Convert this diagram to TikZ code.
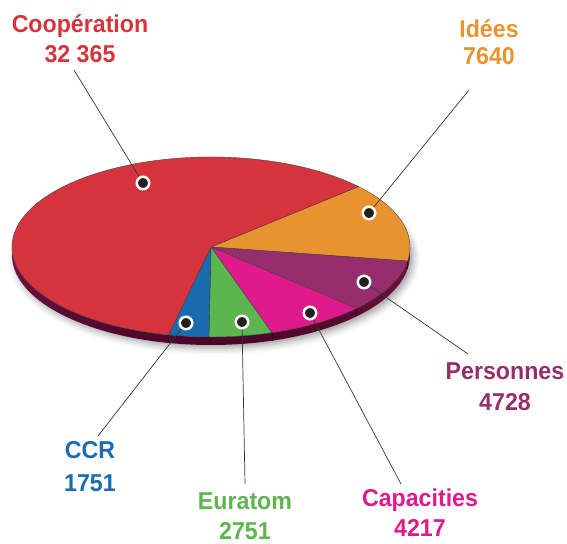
\documentclass[tikz,border=0pt]{standalone}
\usepackage{fontspec}
\newfontfamily\labfont{Liberation Sans}[FakeStretch=0.95]
\usetikzlibrary{shadows.blur}
\definecolor{cRed}{HTML}{D6343C}
\definecolor{cOrange}{HTML}{E8932F}
\definecolor{cPurple}{HTML}{962D6D}
\definecolor{cMagenta}{HTML}{E01A8C}
\definecolor{cGreen}{HTML}{5CB54F}
\definecolor{cBlue}{HTML}{1A6BAF}
\definecolor{cSideTop}{HTML}{7C1649}
\definecolor{cSideBot}{HTML}{4A0628}
\definecolor{cInk}{HTML}{231F20}
\tikzset{
  lab/.style={font=\labfont\bfseries\fontsize{24.4}{30}\selectfont, anchor=base, inner sep=0pt},
  slice/.style={draw=cInk!85, line width=0.4pt},
  leader/.style={draw=cInk!90, line width=0.7pt},
  dotmark/.style={circle, fill=cInk, draw=white, line width=2.5pt, inner sep=0pt, minimum size=12.5pt},
  sideedge/.style={draw=cSideBot!70!black, line width=0.3pt}
}
\begin{document}
\begin{tikzpicture}[x=1pt,y=1pt]
\useasboundingbox (0,0) rectangle (567,543);
\coordinate (C) at (211,296);
% shadow under the pie
\path[blur shadow={shadow xshift=3pt, shadow yshift=-3pt, shadow blur radius=7pt, shadow opacity=40}]
  (211,288) ellipse [x radius=199, y radius=90];
% side band
\shade[top color=cSideTop, bottom color=cSideBot]
  (C) ++(180:199 and 90) arc[start angle=180, end angle=360, x radius=199, y radius=90]
  -- ++(0,-8) arc[start angle=360, end angle=180, x radius=199, y radius=90] -- cycle;
\foreach \a in {-9,-43,-72.2,-90.6,-102.3}{
  \draw[sideedge] (C) ++(\a:199 and 90) -- ++(0,-8);
}
% top slices
\filldraw[slice, fill=cOrange] (C) -- ++(42.2:199 and 90) arc[start angle=42.2, end angle=-9, x radius=199, y radius=90] -- cycle;
\filldraw[slice, fill=cPurple] (C) -- ++(-9:199 and 90) arc[start angle=-9, end angle=-43, x radius=199, y radius=90] -- cycle;
\filldraw[slice, fill=cMagenta] (C) -- ++(-43:199 and 90) arc[start angle=-43, end angle=-72.2, x radius=199, y radius=90] -- cycle;
\filldraw[slice, fill=cGreen] (C) -- ++(-72.2:199 and 90) arc[start angle=-72.2, end angle=-90.6, x radius=199, y radius=90] -- cycle;
\filldraw[slice, fill=cBlue] (C) -- ++(-90.6:199 and 90) arc[start angle=-90.6, end angle=-102.3, x radius=199, y radius=90] -- cycle;
\filldraw[slice, fill=cRed] (C) -- ++(-102.3:199 and 90) arc[start angle=-102.3, end angle=-317.8, x radius=199, y radius=90] -- cycle;
% dot centres and leader ends
\coordinate (pCoop) at (143,360);
\coordinate (pIdees) at (369,330);
\coordinate (pPers) at (364,261);
\coordinate (pCapa) at (310,230);
\coordinate (pEura) at (242,221);
\coordinate (pCCR) at (186,220);
\coordinate (eCoop) at (74,473);
\coordinate (eIdees) at (469,453);
\coordinate (ePers) at (468,189);
\coordinate (eCapa) at (401,59);
\coordinate (eEura) at (245,59);
\coordinate (eCCR) at (98,107);
% leaders
\draw[leader] (pCoop) -- (eCoop);
\draw[leader] (pIdees) -- (eIdees);
\draw[leader] (pPers) -- (ePers);
\draw[leader] (pCapa) -- (eCapa);
\draw[leader] (pEura) -- (eEura);
\draw[leader] (pCCR) -- (eCCR);
% dots
\node[dotmark] (dCoop) at (pCoop) {};
\node[dotmark] (dIdees) at (pIdees) {};
\node[dotmark] (dPers) at (pPers) {};
\node[dotmark] (dCapa) at (pCapa) {};
\node[dotmark] (dEura) at (pEura) {};
\node[dotmark] (dCCR) at (pCCR) {};
% labels
\node[lab, text=cRed] (lCoop1) at (80,510) {Coopération};
\node[lab, text=cRed] (lCoop2) at (80,480) {32 365};
\node[lab, text=cOrange] (lIdees1) at (489,505) {Idées};
\node[lab, text=cOrange] (lIdees2) at (489,478) {7640};
\node[lab, text=cPurple] (lPers1) at (505,163) {Personnes};
\node[lab, text=cPurple] (lPers2) at (505,132) {4728};
\node[lab, text=cBlue] (lCCR1) at (90,84) {CCR};
\node[lab, text=cBlue] (lCCR2) at (90,51) {1751};
\node[lab, text=cGreen] (lEura1) at (245,33) {Euratom};
\node[lab, text=cGreen] (lEura2) at (245,4) {2751};
\node[lab, text=cMagenta] (lCapa1) at (420,36) {Capacities};
\node[lab, text=cMagenta] (lCapa2) at (420,6) {4217};
\end{tikzpicture}
\end{document}
